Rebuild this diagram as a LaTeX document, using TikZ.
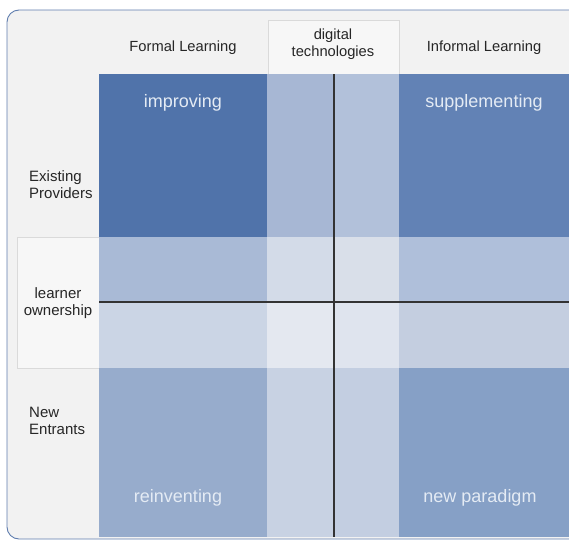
\documentclass[tikz,border=0pt]{standalone}
\usepackage{fontspec}
\setmainfont{Liberation Sans}
\definecolor{bgc}{HTML}{F2F2F2}
\definecolor{framec}{HTML}{5F7DAE}
\definecolor{txt}{HTML}{262626}
\definecolor{lbl}{HTML}{E4EBF4}
\definecolor{cTL}{HTML}{5073AA}
\definecolor{cTR}{HTML}{6282B5}
\definecolor{cTCL}{HTML}{A7B7D4}
\definecolor{cTCR}{HTML}{B2C1DA}
\definecolor{cMLU}{HTML}{A9BAD6}
\definecolor{cMLL}{HTML}{CBD5E5}
\definecolor{cMCLU}{HTML}{D3DBE8}
\definecolor{cMCRU}{HTML}{D9DFE9}
\definecolor{cMCLL}{HTML}{E4E8F0}
\definecolor{cMCRL}{HTML}{DFE4EE}
\definecolor{cMRU}{HTML}{AFBFDA}
\definecolor{cMRL}{HTML}{C4CEE0}
\definecolor{cBL}{HTML}{97ACCC}
\definecolor{cBR}{HTML}{86A0C6}
\definecolor{cBCL}{HTML}{C8D2E3}
\definecolor{cBCR}{HTML}{C3CEE1}
\definecolor{boxc}{HTML}{F7F7F7}
\definecolor{boxline}{HTML}{DADADA}
\begin{document}
\begin{tikzpicture}[x=1pt,y=-1pt,
  cell/.style={draw=none,inner sep=0pt,outer sep=0pt,anchor=north west},
  head/.style={text=txt,inner sep=0pt,font=\fontsize{14.7}{17}\selectfont,align=center},
  side/.style={text=txt,inner sep=0pt,font=\fontsize{15}{17}\selectfont,align=left},
  quad/.style={text=lbl,inner sep=0pt,font=\fontsize{18}{20}\selectfont},
  divider/.style={draw=black!80,line width=1.1pt}]
\useasboundingbox (0,0) rectangle (569,541);
% outer frame
\draw[draw=framec,fill=bgc,line width=0.9pt,rounded corners=12pt] (7,10) rectangle (590,539);
% header and side boxes
\node[cell,fill=boxc,draw=boxline,line width=0.6pt,minimum width=131pt,minimum height=54pt] (dbox) at (268,20) {};
\node[cell,fill=boxc,draw=boxline,line width=0.6pt,minimum width=90pt,minimum height=131pt] (lbox) at (17,237) {};
% top row
\node[cell,fill=cTL,minimum width=168pt,minimum height=163pt] (tl) at (99,74) {};
\node[cell,fill=cTCL,minimum width=67pt,minimum height=163pt] (tcl) at (267,74) {};
\node[cell,fill=cTCR,minimum width=65pt,minimum height=163pt] (tcr) at (334,74) {};
\node[cell,fill=cTR,minimum width=170pt,minimum height=163pt] (tr) at (399,74) {};
% learner ownership row, upper half
\node[cell,fill=cMLU,minimum width=168pt,minimum height=65pt] (mlu) at (99,237) {};
\node[cell,fill=cMCLU,minimum width=67pt,minimum height=65pt] (mclu) at (267,237) {};
\node[cell,fill=cMCRU,minimum width=65pt,minimum height=65pt] (mcru) at (334,237) {};
\node[cell,fill=cMRU,minimum width=170pt,minimum height=65pt] (mru) at (399,237) {};
% learner ownership row, lower half
\node[cell,fill=cMLL,minimum width=168pt,minimum height=66pt] (mll) at (99,302) {};
\node[cell,fill=cMCLL,minimum width=67pt,minimum height=66pt] (mcll) at (267,302) {};
\node[cell,fill=cMCRL,minimum width=65pt,minimum height=66pt] (mcrl) at (334,302) {};
\node[cell,fill=cMRL,minimum width=170pt,minimum height=66pt] (mrl) at (399,302) {};
% bottom row
\node[cell,fill=cBL,minimum width=168pt,minimum height=169pt] (bl) at (99,368) {};
\node[cell,fill=cBCL,minimum width=67pt,minimum height=169pt] (bcl) at (267,368) {};
\node[cell,fill=cBCR,minimum width=65pt,minimum height=169pt] (bcr) at (334,368) {};
\node[cell,fill=cBR,minimum width=170pt,minimum height=169pt] (br) at (399,368) {};
% axes
\draw[divider] (tcl.north east) -- (bcl.south east);
\draw[divider] (mll.north west) -- (mrl.north east);
% headers
\node[head] (formal) at (183,48) {Formal Learning};
\node[head] (informal) at (484,48) {Informal Learning};
\node[head] (digital) at (333,44) {digital\\technologies};
% side labels
\node[side,anchor=west] (existing) at (29,185) {Existing\\Providers};
\node[side,align=center] (learner) at (58,303) {learner\\ownership};
\node[side,anchor=west] (newent) at (29,421) {New\\Entrants};
% quadrant labels
\node[quad] (improving) at (183,103) {improving};
\node[quad] (supplementing) at (484,103) {supplementing};
\node[quad] (reinventing) at (178,498) {reinventing};
\node[quad] (paradigm) at (480,498) {new paradigm};
\end{tikzpicture}
\end{document}
